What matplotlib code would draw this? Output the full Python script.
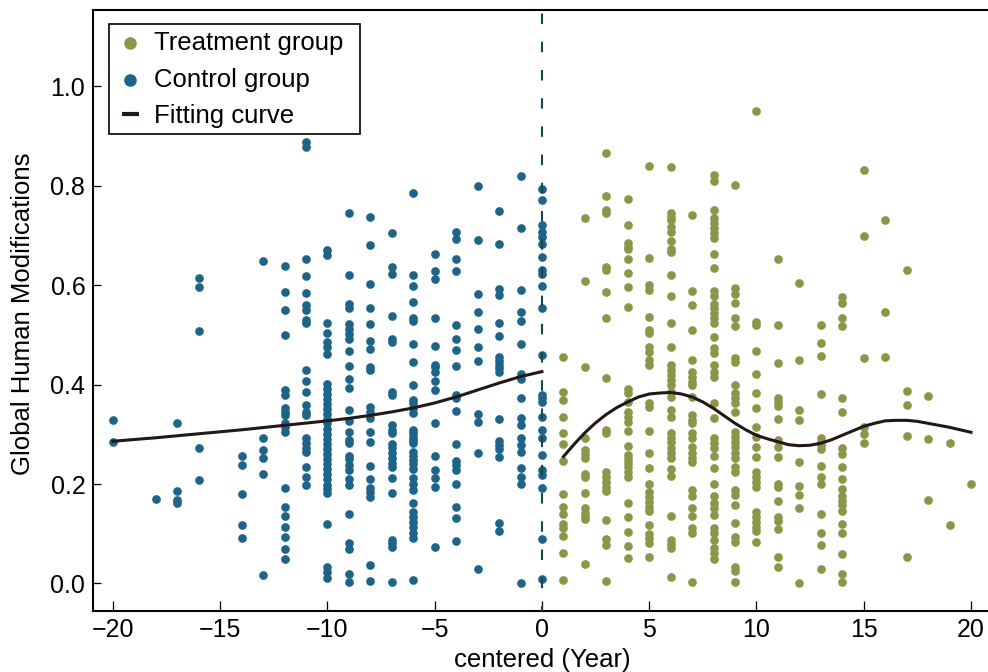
import numpy as np
import matplotlib
matplotlib.use('Agg')
import matplotlib.pyplot as plt
from matplotlib.patches import Rectangle

plt.rcParams['font.family'] = ['Liberation Sans', 'DejaVu Sans']

control_years = [-20, -18, -17, -16, -14, -13, -12, -11, -10, -9, -8, -7, -6, -5, -4, -3, -2, -1, 0]
control_values = [
    [.329, .285],
    [.169],
    [.322, .185, .168, .161],
    [.615, .597, .507, .272, .208],
    [.256, .239, .179, .118, .091],
    [.648, .292, .268, .252, .220, .017],
    [.639, .587, .549, .499, .389, .379, .352, .345, .339, .322, .315, .305, .192, .154, .136, .114, .093, .069, .049],
    [.888, .877, .652, .619, .585, .560, .550, .530, .523, .429, .408, .386, .359, .345, .339, .292, .282, .272, .265, .235, .215, .199],
    [.670, .660, .523, .503, .486, .476, .461, .402, .391, .380, .371, .360, .350, .341, .330, .322, .311, .300, .291, .280, .270, .261, .250, .240, .231, .220, .211, .199, .190, .181, .120, .034, .024, .012],
    [.745, .621, .562, .553, .522, .511, .501, .491, .467, .437, .412, .394, .349, .327, .304, .288, .282, .256, .250, .238, .228, .211, .198, .140, .081, .069, .020, .002],
    [.736, .680, .603, .553, .522, .488, .471, .435, .429, .355, .345, .332, .305, .284, .236, .211, .191, .183, .173, .038, .005],
    [.705, .637, .623, .537, .491, .486, .386, .379, .319, .309, .302, .280, .272, .262, .252, .243, .235, .213, .182, .087, .081, .074, .002],
    [.786, .621, .599, .565, .534, .528, .481, .445, .399, .369, .362, .353, .342, .309, .302, .295, .288, .282, .265, .256, .248, .240, .231, .212, .201, .188, .161, .144, .134, .124, .114, .101, .091, .008],
    [.662, .628, .612, .534, .478, .439, .435, .426, .407, .390, .323, .256, .228, .213, .195, .073],
    [.707, .692, .652, .628, .520, .491, .469, .437, .379, .372, .347, .280, .247, .238, .228, .201, .153, .132, .086],
    [.800, .690, .583, .545, .512, .475, .448, .341, .325, .262, .030],
    [.748, .682, .593, .580, .524, .498, .456, .447, .440, .433, .426, .330, .286, .278, .270, .255, .121, .106],
    [.819, .715, .591, .545, .527, .482, .422, .412, .372, .332, .319, .292, .278, .265, .233, .215, .201, .000],
    [.794, .772, .721, .707, .697, .682, .657, .630, .622, .599, .554, .459, .379, .372, .364, .335, .309, .293, .258, .228, .218, .192, .090, .010],
]

treatment_years = list(range(1, 21))
treatment_values = [
    [.456, .386, .369, .335, .303, .280, .246, .180, .154, .139, .120, .112, .096, .061, .007],
    [.734, .609, .436, .293, .268, .260, .252, .221, .215, .182, .151, .142, .134, .129, .040],
    [.865, .780, .751, .744, .637, .630, .586, .534, .414, .309, .302, .225, .215, .205, .195, .186, .128, .089, .077, .006],
    [.774, .721, .684, .677, .672, .652, .625, .597, .556, .392, .382, .365, .345, .335, .325, .307, .276, .258, .250, .242, .234, .225, .215, .161, .134, .104, .075, .052],
    [.840, .654, .600, .591, .535, .510, .503, .476, .466, .449, .439, .362, .355, .307, .263, .233, .201, .183, .173, .163, .153, .146, .118, .099, .091, .081, .054],
    [.838, .745, .737, .731, .716, .706, .688, .672, .666, .621, .577, .524, .476, .439, .429, .419, .409, .399, .386, .375, .349, .335, .302, .292, .285, .272, .262, .252, .230, .216, .135, .087, .079, .072, .014],
    [.741, .588, .559, .509, .449, .426, .416, .406, .399, .375, .339, .329, .322, .302, .292, .274, .262, .252, .245, .188, .175, .151, .136, .111, .101, .004],
    [.822, .810, .751, .734, .725, .714, .704, .695, .662, .635, .589, .578, .562, .553, .543, .533, .523, .496, .473, .463, .439, .426, .416, .362, .332, .292, .282, .272, .256, .233, .201, .175, .161, .151, .138, .111, .101, .087, .071, .061, .049],
    [.802, .595, .583, .563, .533, .518, .454, .446, .399, .382, .372, .362, .345, .305, .295, .285, .274, .262, .252, .235, .225, .188, .178, .158, .121, .094, .084, .034, .026, .002],
    [.949, .526, .520, .467, .421, .382, .352, .315, .294, .275, .254, .225, .215, .205, .195, .144, .134, .124, .114, .106, .084],
    [.652, .519, .444, .372, .365, .357, .331, .288, .275, .254, .200, .193, .166, .134, .126, .110, .054, .033],
    [.604, .450, .349, .328, .244, .197, .178, .152, .000],
    [.520, .483, .457, .381, .292, .285, .278, .270, .237, .215, .200, .140, .101, .077, .029],
    [.575, .563, .534, .518, .372, .345, .272, .260, .235, .211, .189, .175, .166, .158, .145, .119, .101, .059, .020, .002],
    [.831, .698, .453, .315, .300, .282],
    [.730, .546, .455],
    [.631, .388, .358, .296, .053],
    [.377, .290, .168],
    [.283, .117],
    [.201],
]

fit_control_x = [-20, -18, -16, -15, -14, -12, -10, -9, -8, -7, -6, -5, -4, -3, -2, -1, 0]
fit_control_y = [.286, .293, .301, .305, .309, .318, .327, .332, .338, .345, .353, .363, .375, .389, .403, .416, .426]
fit_treat_x = [1, 1.5, 2, 2.5, 3, 3.5, 4, 4.5, 5, 5.5, 6, 6.5, 7, 7.5, 8, 8.5, 9, 9.5, 10, 10.5, 11, 11.5, 12, 12.5, 13, 13.5, 14, 14.5, 15, 15.5, 16, 16.5, 17, 17.5, 18, 18.5, 19, 19.5, 20]
fit_treat_y = [.255, .280, .303, .323, .340, .354, .365, .375, .381, .383, .384, .381, .375, .365, .352, .337, .322, .309, .298, .291, .285, .279, .277, .278, .282, .289, .298, .307, .316, .322, .327, .328, .328, .326, .322, .318, .314, .309, .304]

treat_color = '#8b9648'
control_color = '#1d6488'
curve_color = '#231815'

W, H = 988.0, 672.0
fig = plt.figure(figsize=(W/100, H/100), dpi=100)
# right spine sits past the image edge, the reference has none visible
ax = fig.add_axes([93/W, 1-611/H, (995-93)/W, (611-10)/H])

cx = np.repeat(control_years, [len(v) for v in control_values])
cy = np.concatenate(control_values)
tx = np.repeat(treatment_years, [len(v) for v in treatment_values])
ty = np.concatenate(treatment_values)

ax.scatter(tx, ty, s=39, color=treat_color, linewidths=0, zorder=2, label='Treatment group')
ax.scatter(cx, cy, s=39, color=control_color, linewidths=0, zorder=2, label='Control group')
ax.axvline(0, color='#14484f', lw=1.5, linestyle=(2.6, (5.04, 8.5)), zorder=3)
ax.plot(fit_control_x, fit_control_y, color=curve_color, lw=2.2, zorder=4, label='Fitting curve')
ax.plot(fit_treat_x, fit_treat_y, color=curve_color, lw=2.2, zorder=4)

ax.set_xlim(-20.93, 21.12)
ax.set_ylim(-0.0553, 1.153)
ax.set_xticks(np.arange(-20, 21, 5))
ax.set_yticks(np.arange(0, 1.01, 0.2))
ax.set_xticklabels(['\u2212%d' % abs(v) if v < 0 else '%d' % v for v in np.arange(-20, 21, 5)])
ax.tick_params(axis='x', direction='in', length=7, width=0.9, labelsize=18, pad=5)
ax.tick_params(axis='y', direction='in', length=5.5, width=0.9, labelsize=18, pad=5.5)
ax.set_xlabel('centered (Year)', fontsize=18.5, va='center')
ax.set_ylabel('Global Human Modifications', fontsize=18.5, va='center')
ax.xaxis.set_label_coords(0.4983, -0.081)
ax.yaxis.set_label_coords(-0.0775, 0.494)
for s in ax.spines.values():
    s.set_linewidth(1.5)

# legend box drawn on its own so the padding can differ per side
box = Rectangle((109/W, 1-134/H), (360-109)/W, 110/H, transform=fig.transFigure,
                facecolor='white', edgecolor='black', lw=1.2, zorder=4.5)
ax.add_patch(box)
leg = ax.legend(loc='upper left', bbox_to_anchor=(122/W, 1-31/H), bbox_transform=fig.transFigure,
                fontsize=18.5, frameon=False, borderaxespad=0, borderpad=0, labelspacing=0.49,
                handlelength=0.65, handletextpad=0.58, markerscale=1.45)
leg.legend_handles[2].set_linewidth(3)
leg.legend_handles[2].set_solid_capstyle('butt')

fig.savefig('out.png', dpi=100)
